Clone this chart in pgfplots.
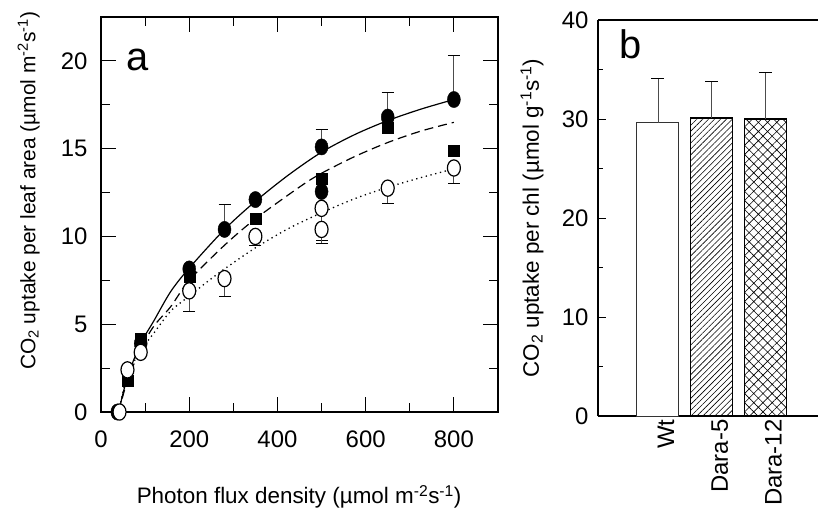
\documentclass[border=0pt]{standalone}
\usepackage{fontspec}
\setmainfont{Liberation Sans}
\usepackage{pgfplots}
\pgfplotsset{compat=1.18}
\usetikzlibrary{patterns.meta}
\newcommand{\fs}{\fontsize{22.5}{27}\selectfont}
\newcommand{\ft}{\fontsize{24}{28}\selectfont}
\pgfplotsset{errplot/.style={draw=none, mark=none, forget plot,
  error bars/y explicit,
  error bars/error bar style={draw=black!70, line width=0.9bp, solid},
  error bars/error mark options={rotate=90, mark size=#1, line width=0.9bp, draw=black, solid}},
  errplot/.default=6bp}
\begin{document}
\begin{tikzpicture}
\useasboundingbox (0bp,0bp) rectangle (818bp,-513bp);
% ---------------- panel a ----------------
\begin{axis}[
  at={(101bp,-412bp)}, anchor=south west,
  scale only axis, width=397bp, height=395bp,
  xmin=0, xmax=900, ymin=0, ymax=22.5,
  xtick={0,200,...,800}, minor xtick={100,300,...,700},
  ytick={0,5,...,20}, minor ytick={2.5,7.5,...,17.5},
  tick align=inside, major tick length=15bp, minor tick length=9bp,
  axis line style={line width=1.1bp}, tick style={line width=1bp, black},
  font=\fs, /pgf/number format/assume math mode=true,
  tick label style={font=\ft},
  xticklabel style={yshift=-15bp},
  yticklabel style={xshift=-10bp},
  xlabel={Photon flux density (µmol m\textsuperscript{-2}s\textsuperscript{-1})},
  xlabel style={at={(axis description cs:0.499,-0.215)}, anchor=center},
  ylabel={CO\textsubscript{2} uptake per leaf area (µmol m\textsuperscript{-2}s\textsuperscript{-1})},
  ylabel style={at={(axis description cs:-0.182,0.56)}, anchor=center, font=\fontsize{21}{25}\selectfont},
  clip=false,
]
% fitted curves
\addplot[black, line width=1.2bp, smooth] coordinates {
 (40,0) (60,2.0) (90,3.9) (120,5.2) (158,6.86) (200,8.2) (280,10.4) (350,12.0)
 (425,13.5) (500,14.8) (575,15.8) (650,16.6) (725,17.25) (800,17.8)};
\addplot[black, line width=1.2bp, smooth, dash pattern=on 9bp off 5bp] coordinates {
 (40,0) (60,1.8) (90,3.6) (120,4.9) (158,6.0) (200,7.5) (280,9.5) (350,11.0)
 (452,12.85) (500,13.6) (575,14.55) (650,15.35) (725,16.0) (800,16.5)};
\addplot[black, line width=1.3bp, smooth, dash pattern=on 1.3bp off 3.6bp] coordinates {
 (40,0) (60,2.1) (90,3.5) (120,4.5) (158,5.75) (200,6.6) (240,7.4) (280,8.15)
 (350,9.35) (425,10.45) (500,11.35) (575,12.15) (650,12.8) (725,13.35) (800,13.85)};
% error bars (filled circles, upward)
\addplot[errplot, error bars/y dir=plus]
  coordinates {(280,10.4) +- (0,1.4) (500,15.1) +- (0,1.0) (650,16.8) +- (0,1.4) (800,17.8) +- (0,2.5)};
% error bars (open circles, downward)
\addplot[errplot, error bars/y dir=minus]
  coordinates {(200,6.9) +- (0,1.2) (280,7.6) +- (0,1.0) (350,10.0) +- (0,0.5)
   (500,10.4) +- (0,0.65) (500,11.6) +- (0,2.0) (650,12.75) +- (0,0.85) (800,13.9) +- (0,0.9)};
% filled squares
\addplot[only marks, mark=square*, mark size=5.5bp, black] coordinates {
 (40,0) (60,1.8) (90,4.2) (200,7.7) (350,11.0) (500,13.3) (650,16.2) (800,14.9)};
% filled circles
\addplot[only marks, mark=*, mark size=6.5bp, black, mark options={yscale=1.25}] coordinates {
 (37,0) (90,3.9) (200,8.15) (280,10.4) (350,12.1) (500,15.1) (500,12.56) (650,16.8) (800,17.8)};
% open circles
\addplot[only marks, mark=*, mark size=6.5bp, mark options={yscale=1.25, fill=white, draw=black, line width=1.2bp}] coordinates {
 (42,0) (60,2.4) (90,3.4) (200,6.9) (280,7.6) (350,10.0) (500,11.6) (500,10.4) (650,12.75) (800,13.9)};
\node[font=\fontsize{40}{44}\selectfont] at (axis description cs:0.093,0.891) {a};
\end{axis}
% ---------------- panel b ----------------
\begin{axis}[
  at={(598bp,-416bp)}, anchor=south west,
  scale only axis, width=220bp, height=396bp,
  axis x line=box, axis y line=left,
  xmin=-1.117, xmax=2.98, ymin=0, ymax=40,
  xtick={0,1,2}, xticklabels={Wt,Dara-5,Dara-12},
  x tick style={draw=none},
  ytick={0,10,...,40}, minor ytick={5,15,...,35},
  ytick pos=left,
  tick align=inside, major tick length=8bp, minor tick length=5bp,
  axis line style={line width=1.1bp, -}, tick style={line width=1bp, black},
  font=\fs, /pgf/number format/assume math mode=true,
  tick label style={font=\ft},
  xticklabel style={rotate=90, anchor=east, yshift=-8bp},
  yticklabel style={xshift=-6bp},
  ylabel={CO\textsubscript{2} uptake per chl (µmol g\textsuperscript{-1}s\textsuperscript{-1})},
  ylabel style={at={(axis description cs:-0.30,0.5)}, anchor=center},
  clip=false,
]
\addplot[ybar, bar width=42bp, bar shift=0pt, draw=black!80, fill=white, line width=1bp] coordinates {(0,29.6)};
\addplot[ybar, bar width=42bp, bar shift=0pt, draw=black, line width=1.1bp,
  pattern={Lines[angle=45, distance=4.2bp, line width=0.6bp]}] coordinates {(1,30.1)};
\addplot[ybar, bar width=42bp, bar shift=0pt, draw=black, line width=1.3bp,
  pattern={Hatch[angle=45, distance=6.5bp, line width=0.6bp]}] coordinates {(2,30.0)};
\addplot[errplot=6.5bp, error bars/y dir=plus]
  coordinates {(0,29.6) +- (0,4.5) (1,30.1) +- (0,3.7) (2,30.0) +- (0,4.7)};
\node[font=\fontsize{40}{44}\selectfont] at (axis description cs:0.15,0.94) {b};
\end{axis}
\end{tikzpicture}
\end{document}
